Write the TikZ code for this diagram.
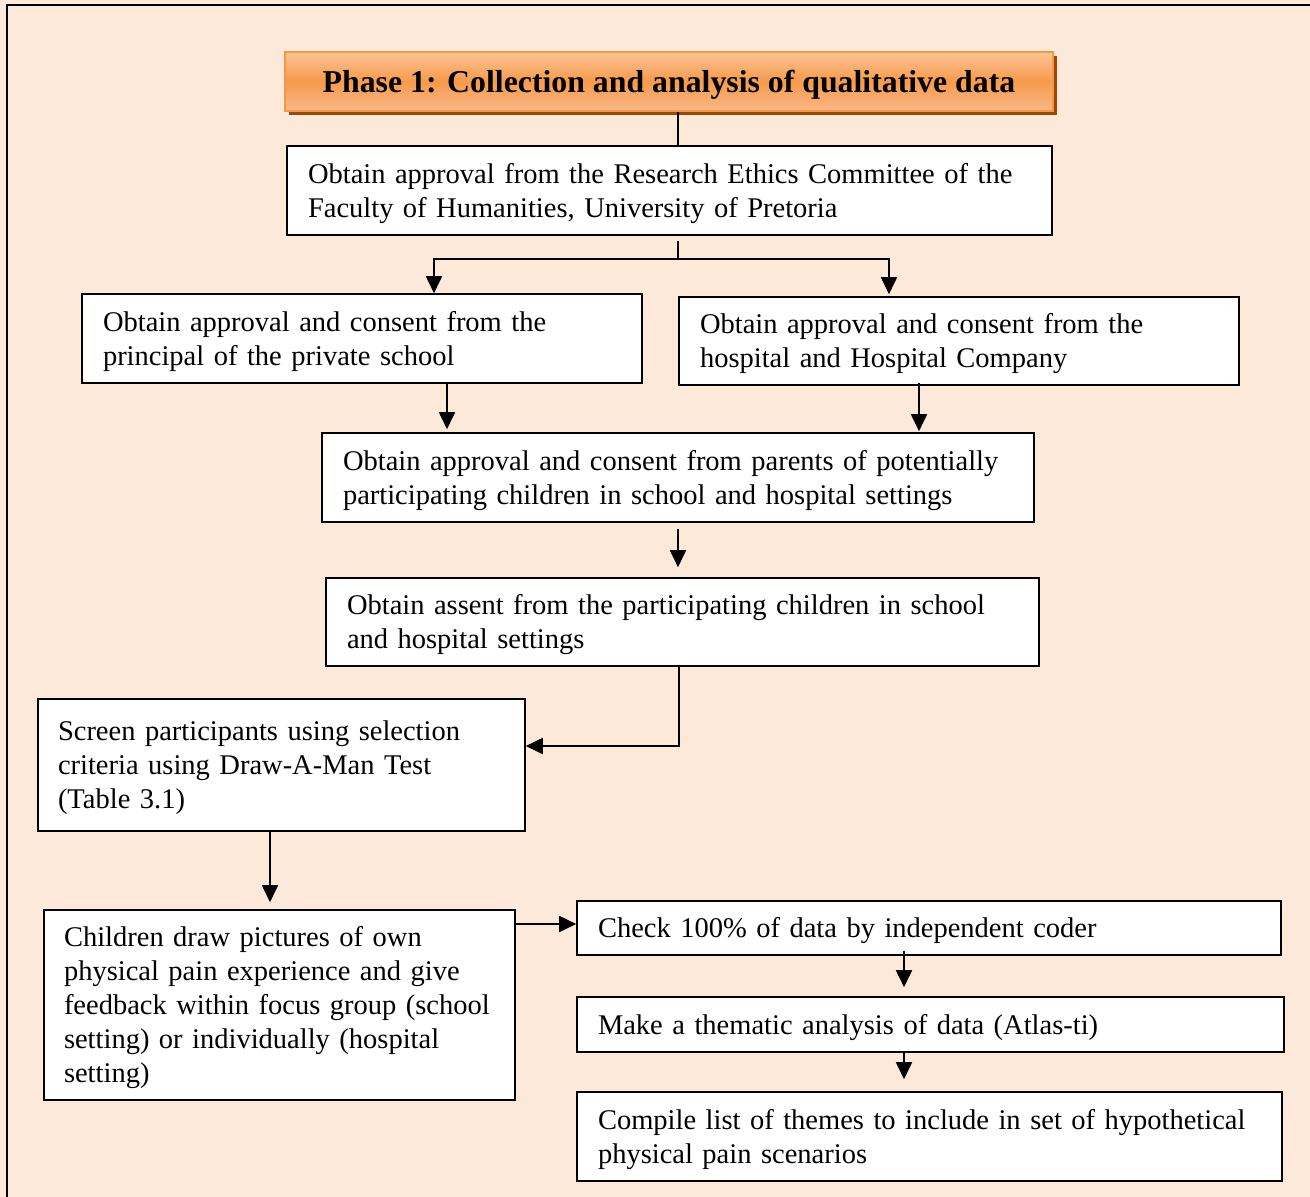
\documentclass[tikz,border=0pt]{standalone}
\usepackage{fontspec}
\setmainfont{Liberation Serif}
\usetikzlibrary{arrows.meta,shadows}
\definecolor{bgc}{HTML}{FDE9D9}
\definecolor{tTop}{HTML}{FAC494}
\definecolor{tMid}{HTML}{F79A4C}
\definecolor{tBot}{HTML}{FAB887}
\definecolor{tBorder}{HTML}{F79646}
\definecolor{tShadow}{HTML}{984807}
\tikzset{
  box/.style={draw, rectangle, line width=1.6pt, fill=white, align=left,
    inner xsep=21pt, inner ysep=0pt, font=\fontsize{28.5}{34}\selectfont,
    execute at begin node={\rule{0pt}{26pt}}},
  arr/.style={line width=1.8pt, -{Triangle[width=16pt,length=17pt]}},
  conn/.style={line width=1.8pt},
  titlebox/.style={rectangle, draw=tBorder, line width=1.5pt,
    top color=tTop, bottom color=tBot, middle color=tMid,
    drop shadow={shadow xshift=4pt, shadow yshift=-4pt, fill=tShadow, opacity=1},
    font=\fontsize{31.8}{36}\selectfont\bfseries, inner sep=0pt,
    text height=27pt, text depth=6pt}
}
\begin{document}
\begin{tikzpicture}[x=1pt,y=-1pt]
\useasboundingbox (0,0) rectangle (1310,1197);
\fill[bgc] (0,0) rectangle (1310,1197);
\draw[line width=2.5pt] (7,1197) -- (7,5) -- (1310,5);

\node[titlebox, minimum width=768pt, minimum height=59pt] (title) at (669,81.5)
  {Phase 1: Collection and analysis of qualitative data};

\node[box, minimum width=765pt, minimum height=89pt, text width=723pt] (b1) at (669.5,190.5)
  {\mbox{Obtain approval from the Research Ethics Committee of the}\\\mbox{Faculty of Humanities, University of Pretoria}};
\node[box, minimum width=560pt, minimum height=89pt, text width=518pt] (b2) at (362,338.5)
  {\mbox{Obtain approval and consent from the}\\\mbox{principal of the private school}};
\node[box, minimum width=560pt, minimum height=88pt, text width=518pt] (b3) at (959,341)
  {\mbox{Obtain approval and consent from the}\\\mbox{hospital and Hospital Company}};
\node[box, minimum width=712pt, minimum height=89pt, text width=670pt] (b4) at (678,477.5)
  {\mbox{Obtain approval and consent from parents of potentially}\\\mbox{participating children in school and hospital settings}};
\node[box, minimum width=713pt, minimum height=88pt, text width=671pt] (b5) at (682.5,622)
  {\mbox{Obtain assent from the participating children in school}\\\mbox{and hospital settings}};
\node[box, minimum width=487pt, minimum height=132pt, text width=447pt, inner xsep=20pt,
  execute at begin node={\rule{0pt}{19pt}}] (b6) at (281.5,765)
  {\mbox{Screen participants using selection}\\\mbox{criteria using Draw-A-Man Test}\\\mbox{(Table 3.1)}};
\node[box, minimum width=471pt, minimum height=190pt, text width=431pt, inner xsep=20pt] (b7) at (279.5,1005)
  {\mbox{Children draw pictures of own}\\\mbox{physical pain experience and give}\\\mbox{feedback within focus group (school}\\\mbox{setting) or individually (hospital}\\\mbox{setting)}};
\node[box, minimum width=704pt, minimum height=54pt, text width=662pt] (b8) at (929,928)
  {\mbox{Check 100\% of data by independent coder}};
\node[box, minimum width=707pt, minimum height=55pt, text width=665pt] (b9) at (930.5,1024.5)
  {\mbox{Make a thematic analysis of data (Atlas-ti)}};
\node[box, minimum width=705pt, minimum height=89pt, text width=663pt] (b10) at (929.5,1136.5)
  {\mbox{Compile list of themes to include in set of hypothetical}\\\mbox{physical pain scenarios}};

\coordinate (xa) at (678,0);
\coordinate (j1) at (678,259);
\coordinate (xl) at (434,0);
\coordinate (xr) at (889,0);
\coordinate (x2) at (447,0);
\coordinate (x3) at (919,0);
\coordinate (x5) at (679,0);
\coordinate (y6) at (0,746);
\coordinate (x6) at (270,0);
\coordinate (y7) at (0,924);
\coordinate (x8) at (904,0);

\draw[conn] (title.south -| xa) -- (b1.north -| xa);
\draw[conn] ([yshift=-5pt]b1.south -| j1) -- (j1);
\draw[arr] (j1) -| (b2.north -| xl);
\draw[arr, shorten >=2pt] (j1) -| (b3.north -| xr);
\draw[arr, shorten >=3pt] (b2.south -| x2) -- (b4.north -| x2);
\draw[arr, shorten >=1pt] ([yshift=3pt]b3.south -| x3) -- (b4.north -| x3);
\draw[arr, shorten <=6pt, shorten >=10pt] (b4.south -| xa) -- (b5.north -| xa);
\draw[arr] (b5.south -| x5) |- (b6.east |- y6);
\draw[arr, shorten >=7pt] (b6.south -| x6) -- (b7.north -| x6);
\draw[arr] (b7.east |- y7) -- (b8.west |- y7);
\draw[arr, shorten >=9pt] ([yshift=5pt]b8.south -| x8) -- (b9.north -| x8);
\draw[arr, shorten >=12pt] (b9.south -| x8) -- (b10.north -| x8);
\end{tikzpicture}
\end{document}
